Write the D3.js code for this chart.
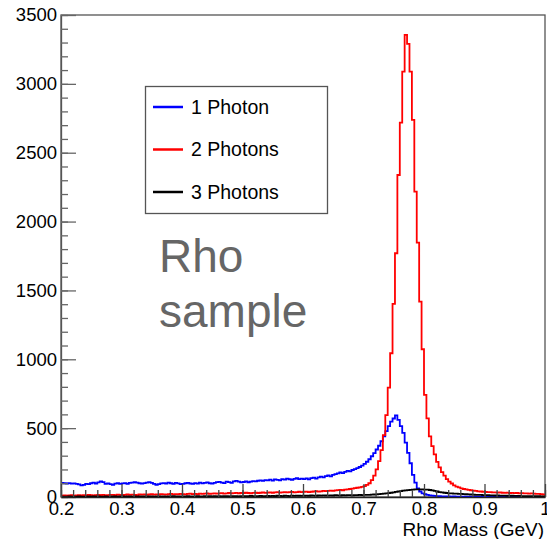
<!DOCTYPE html>
<html>
<head>
<meta charset="utf-8">
<script src="https://cdn.jsdelivr.net/npm/d3@7"></script>
<style>
  body { margin: 0; background: #fff; }
  svg { display: block; }
  text { font-family: "Liberation Sans", Arial, sans-serif; }
</style>
</head>
<body>
<div class="chart"></div>
<script>
// histogram binning: 200 bins of 0.004 GeV from 0.2 to 1.0
const xMin = 0.2
const binWidth = 0.004

const onePhoton = [
  102, 100, 98, 101, 97, 99, 96, 92, 84, 88,
  95, 93, 100, 104, 98, 106, 114, 108, 96, 99,
  93, 88, 97, 100, 95, 99, 101, 96, 103, 105,
  107, 104, 100, 97, 101, 104, 108, 103, 96, 89,
  93, 99, 101, 98, 104, 100, 96, 102, 99, 93,
  96, 100, 103, 98, 95, 101, 97, 104, 99, 102,
  106, 100, 97, 103, 108, 110, 104, 101, 112, 108,
  103, 114, 117, 111, 106, 109, 114, 107, 112, 116,
  113, 118, 121, 117, 123, 120, 126, 119, 128, 124,
  121, 130, 126, 133, 129, 124, 131, 136, 130, 134,
  130, 135, 128, 137, 141, 134, 143, 148, 142, 151,
  156, 150, 160, 166, 172, 178, 174, 183, 190, 186,
  196, 203, 210, 218, 228, 241, 256, 274, 296, 318,
  345, 372, 405, 440, 478, 515, 548, 570, 592, 560,
  515, 465, 395, 320, 245, 160, 105, 62, 40, 27,
  20, 16, 12, 10, 8, 7, 6, 5, 5, 4,
  4, 3, 4, 3, 3, 2, 3, 2, 3, 2,
  2, 3, 2, 2, 1, 2, 2, 1, 2, 1,
  1, 2, 1, 1, 2, 1, 1, 1, 2, 1,
  1, 1, 1, 0, 1, 1, 0, 1, 1, 0
]

const twoPhotons = [
  10, 12, 9, 11, 13, 10, 12, 14, 11, 13,
  12, 15, 13, 11, 14, 16, 13, 15, 12, 14,
  16, 15, 13, 17, 15, 14, 16, 18, 15, 17,
  16, 14, 18, 17, 19, 16, 18, 20, 17, 19,
  18, 21, 19, 17, 20, 22, 19, 21, 20, 23,
  21, 19, 22, 24, 21, 23, 20, 25, 22, 24,
  26, 23, 25, 27, 24, 26, 28, 25, 27, 29,
  26, 28, 30, 27, 29, 28, 31, 29, 27, 30,
  32, 29, 31, 33, 30, 32, 34, 31, 33, 35,
  32, 34, 36, 33, 35, 37, 34, 36, 38, 35,
  37, 39, 36, 38, 40, 42, 39, 41, 44, 42,
  45, 47, 44, 48, 50, 52, 49, 53, 56, 58,
  61, 64, 67, 70, 74, 79, 88, 100, 122, 155,
  200, 260, 340, 450, 595, 794, 1044, 1402, 1770, 2338,
  2718, 3089, 3355, 3290, 3089, 2738, 2217, 1847, 1418, 1073,
  741, 571, 440, 370, 310, 255, 215, 180, 155, 130,
  112, 98, 85, 76, 70, 63, 58, 55, 52, 49,
  46, 44, 41, 40, 38, 37, 35, 36, 33, 34,
  32, 33, 31, 30, 32, 29, 30, 28, 29, 27,
  28, 26, 27, 25, 26, 24, 23, 22, 20, 18
]

const threePhotons = [
  2, 3, 2, 4, 3, 2, 3, 4, 3, 2,
  3, 4, 3, 5, 3, 4, 2, 3, 4, 3,
  3, 4, 5, 3, 4, 4, 3, 5, 4, 3,
  4, 3, 5, 4, 4, 3, 5, 4, 3, 5,
  4, 5, 4, 3, 5, 4, 6, 4, 5, 4,
  5, 4, 6, 5, 4, 5, 6, 5, 4, 6,
  5, 6, 5, 7, 5, 6, 5, 7, 6, 5,
  6, 7, 6, 5, 7, 6, 7, 6, 8, 6,
  7, 6, 8, 7, 6, 8, 7, 8, 7, 9,
  8, 7, 9, 8, 7, 9, 8, 10, 9, 8,
  9, 10, 9, 11, 10, 9, 11, 10, 12, 11,
  10, 12, 11, 13, 12, 11, 13, 12, 14, 13,
  12, 14, 13, 15, 14, 15, 16, 15, 17, 18,
  19, 21, 22, 24, 26, 28, 31, 34, 37, 40,
  43, 46, 48, 50, 52, 54, 55, 56, 55, 56,
  54, 53, 51, 48, 45, 40, 36, 33, 31, 29,
  27, 26, 25, 24, 23, 22, 21, 20, 19, 18,
  17, 16, 15, 15, 14, 13, 13, 12, 12, 11,
  11, 10, 10, 10, 9, 9, 9, 8, 8, 8,
  7, 7, 7, 7, 6, 6, 6, 6, 5, 5
]

const seriesNames = ["1 Photon", "2 Photons", "3 Photons"]
const seriesColors = ["#0000ff", "#ff0000", "#000000"]

const xTicks = [0.2, 0.3, 0.4, 0.5, 0.6, 0.7, 0.8, 0.9, 1.0]
const xTickLabels = ["0.2", "0.3", "0.4", "0.5", "0.6", "0.7", "0.8", "0.9", "1"]
const yTicks = [0, 500, 1000, 1500, 2000, 2500, 3000, 3500]

const width = 547
const height = 539
const margin = { top: 15, right: 2, bottom: 42, left: 61 }

const svg = d3.select(".chart")
  .append("svg")
  .attr("width", width)
  .attr("height", height)

const x = d3.scaleLinear()
  .domain([0.2, 1.0])
  .range([margin.left, width - margin.right])

const y = d3.scaleLinear()
  .domain([0, 3500])
  .range([height - margin.bottom, margin.top])

// frame
svg.append("rect")
  .attr("x", x(0.2))
  .attr("y", y(3500))
  .attr("width", x(1.0) - x(0.2))
  .attr("height", y(0) - y(3500))
  .attr("fill", "none")
  .attr("stroke", "#555")
  .attr("stroke-width", 1.3)

// histograms as step outlines
const stepLine = d3.line()
  .x(d => x(d[0]))
  .y(d => y(d[1]))
  .curve(d3.curveStepAfter)

function histPoints(values) {
  const pts = values.map((v, i) => [xMin + i * binWidth, v])
  pts.push([xMin + values.length * binWidth, values[values.length - 1]])
  return pts
}

const allSeries = [onePhoton, twoPhotons, threePhotons]

svg.selectAll(".hist")
  .data(allSeries)
  .enter()
  .append("path")
  .attr("class", "hist")
  .attr("d", d => stepLine(histPoints(d)))
  .attr("fill", "none")
  .attr("stroke", (d, i) => seriesColors[i])
  .attr("stroke-width", 1.8)

// y axis (ticks point into the frame)
const yAxis = svg.append("g")
  .attr("transform", `translate(${margin.left},0)`)
  .call(d3.axisLeft(y).tickValues(yTicks).tickSize(-15).tickSizeOuter(0).tickPadding(4)
    .tickFormat(d3.format("d")))
yAxis.select(".domain").attr("stroke", "#555").attr("stroke-width", 1.3)
yAxis.selectAll(".tick line").attr("stroke", "#666").attr("stroke-width", 1.3)
yAxis.selectAll("text")
  .attr("font-size", 18.5)
  .attr("fill", "#000")
  .attr("font-family", "Liberation Sans, Arial, sans-serif")

svg.append("g")
  .attr("transform", `translate(${margin.left},0)`)
  .call(d3.axisLeft(y).ticks(35).tickSize(-7).tickSizeOuter(0).tickFormat(""))
  .call(g => g.select(".domain").remove())
  .selectAll(".tick line").attr("stroke", "#666").attr("stroke-width", 1.3)

// x axis
const xAxis = svg.append("g")
  .attr("transform", `translate(0,${y(0)})`)
  .call(d3.axisBottom(x).tickValues(xTicks).tickSize(-13).tickSizeOuter(0).tickPadding(5)
    .tickFormat((d, i) => xTickLabels[i]))
xAxis.select(".domain").attr("stroke", "#222").attr("stroke-width", 1.5)
xAxis.selectAll(".tick line").attr("stroke", "#444").attr("stroke-width", 1.3)
xAxis.selectAll("text")
  .attr("font-size", 18.5)
  .attr("fill", "#000")
  .attr("font-family", "Liberation Sans, Arial, sans-serif")

svg.append("g")
  .attr("transform", `translate(0,${y(0)})`)
  .call(d3.axisBottom(x).ticks(40).tickSize(-7).tickSizeOuter(0).tickFormat(""))
  .call(g => g.select(".domain").remove())
  .selectAll(".tick line").attr("stroke", "#444").attr("stroke-width", 1.3)

svg.append("text")
  .attr("x", x(1.0) - 1)
  .attr("y", 536)
  .attr("text-anchor", "end")
  .attr("font-size", 19)
  .text("Rho Mass (GeV)")

// legend
const legend = svg.append("g")
legend.append("rect")
  .attr("x", 145.5)
  .attr("y", 86.5)
  .attr("width", 182)
  .attr("height", 127)
  .attr("fill", "#fff")
  .attr("stroke", "#555")
  .attr("stroke-width", 1.3)

const legendRows = legend.selectAll(".row")
  .data(seriesNames)
  .enter()
  .append("g")
  .attr("class", "row")
  .attr("transform", (d, i) => `translate(0,${107 + i * 42.5})`)

legendRows.append("line")
  .attr("x1", 153).attr("x2", 183)
  .attr("stroke", (d, i) => seriesColors[i])
  .attr("stroke-width", 2.5)

legendRows.append("text")
  .attr("x", 191)
  .attr("y", 6.5)
  .attr("font-size", 19.5)
  .text(d => d)

// annotation
const note = svg.append("text")
  .attr("x", 159)
  .attr("font-family", "Lato, 'Open Sans', sans-serif")
  .attr("font-weight", 300)
  .attr("font-size", 46)
  .attr("fill", "#666")
note.append("tspan").attr("x", 159).attr("y", 272).text("Rho")
note.append("tspan").attr("x", 159).attr("y", 327).text("sample")
</script>
</body>
</html>
